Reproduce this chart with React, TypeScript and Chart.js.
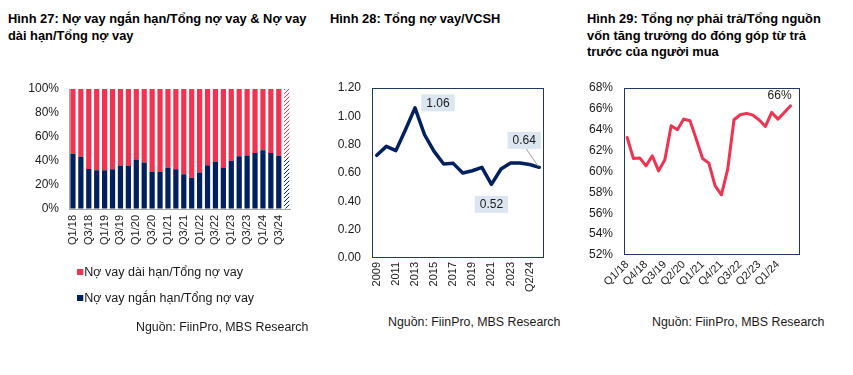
import React, { useEffect, useRef } from 'react';
import { Chart, registerables } from 'chart.js';

Chart.register(...registerables);

// ---------- DATA ----------
const quarters = [
  'Q1/18', 'Q2/18', 'Q3/18', 'Q4/18', 'Q1/19', 'Q2/19', 'Q3/19', 'Q4/19',
  'Q1/20', 'Q2/20', 'Q3/20', 'Q4/20', 'Q1/21', 'Q2/21', 'Q3/21', 'Q4/21',
  'Q1/22', 'Q2/22', 'Q3/22', 'Q4/22', 'Q1/23', 'Q2/23', 'Q3/23', 'Q4/23',
  'Q1/24', 'Q2/24', 'Q3/24', 'Q4/24',
];
const shortTermShare = [
  45.9, 43.6, 33.4, 32.3, 32.3, 33.1, 35.9, 35.9, 41.2, 38.7, 30.9, 30.9, 34.3, 33.1,
  29.0, 26.0, 30.4, 36.5, 39.2, 34.5, 40.3, 43.9, 44.5, 46.7, 48.9, 46.7, 44.5, 43.0,
];
const longTermShare = [
  54.1, 56.4, 66.6, 67.7, 67.7, 66.9, 64.1, 64.1, 58.8, 61.3, 69.1, 69.1, 65.7, 66.9,
  71.0, 74.0, 69.6, 63.5, 60.8, 65.5, 59.7, 56.1, 55.5, 53.3, 51.1, 53.3, 55.5, 57.0,
];
const shareTicks = [0, 20, 40, 60, 80, 100];

const debtYears = [
  '2009', '2010', '2011', '2012', '2013', '2014', '2015', '2016', '2017',
  '2018', '2019', '2020', '2021', '2022', '2023', 'Q1/24', 'Q2/24', 'Q3/24',
];
const debtToEquity = [
  0.725, 0.788, 0.758, 0.906, 1.06, 0.87, 0.753, 0.664, 0.668,
  0.60, 0.616, 0.64, 0.52, 0.628, 0.67, 0.67, 0.66, 0.64,
];

const liabilityShare = [
  63.26, 61.25, 61.3, 60.54, 61.5, 60.06, 61.12, 64.38, 64.0, 65.02, 64.86, 63.1, 61.25, 60.8,
  58.62, 57.76, 60.22, 64.96, 65.44, 65.57, 65.4, 64.93, 64.32, 65.66, 65.02, 65.66, 66.3,
];

const titles = {
  c1: ['Hình 27: Nợ vay ngắn hạn/Tổng nợ vay & Nợ vay', 'dài hạn/Tổng nợ vay'],
  c2: ['Hình 28: Tổng nợ vay/VCSH'],
  c3: ['Hình 29: Tổng nợ phải trả/Tổng nguồn', 'vốn tăng trưởng do đóng góp từ trả', 'trước của người mua'],
};
const legendLabels = ['Nợ vay dài hạn/Tổng nợ vay', 'Nợ vay ngắn hạn/Tổng nợ vay'];
const sourceText = 'Nguồn: FiinPro, MBS Research';

// ---------- STYLE ----------
const RED = '#ef3350';
const NAVY = '#002060';
const FRAME = '#1f3864';
const TEXT = '#1a1a1a';
const FONT = '"Liberation Sans", Arial, sans-serif';
const Y_FONT = { family: FONT, size: 12 };
const X_FONT = { family: FONT, size: 11 };

// spacing done with invisible tick marks so Chart.js doesn't enlarge the padding
const gapGrid = (len: number) => ({
  display: true, drawOnChartArea: false, drawTicks: true, tickLength: len,
  color: 'rgba(0,0,0,0)', tickColor: 'rgba(0,0,0,0)',
});

function hatch(color: string) {
  const c = document.createElement('canvas');
  c.width = 4;
  c.height = 4;
  const g = c.getContext('2d')!;
  g.fillStyle = '#ffffff';
  g.fillRect(0, 0, 4, 4);
  g.strokeStyle = color;
  g.lineWidth = 1;
  g.beginPath();
  g.moveTo(0, 4); g.lineTo(4, 0);
  g.moveTo(-1, 1); g.lineTo(1, -1);
  g.moveTo(3, 5); g.lineTo(5, 3);
  g.stroke();
  return g.createPattern(c, 'repeat');
}

const framePlugin = {
  id: 'frame',
  beforeDatasetsDraw(chart: any) {
    const { ctx, chartArea: a } = chart;
    ctx.save();
    ctx.strokeStyle = FRAME;
    ctx.lineWidth = 1;
    ctx.strokeRect(Math.round(a.left) + 0.5, Math.round(a.top) + 0.5, Math.round(a.right - a.left) - 1, Math.round(a.bottom - a.top) - 1);
    ctx.restore();
  },
};

const boxLabelPlugin = {
  id: 'boxLabels',
  afterDatasetsDraw(chart: any) {
    const ds = chart.data.datasets[0].data as number[];
    const meta = chart.getDatasetMeta(0);
    let maxI = 0, minI = 0;
    ds.forEach((v, i) => { if (v > ds[maxI]) maxI = i; if (v < ds[minI]) minI = i; });
    const lastI = ds.length - 1;
    const items = [
      { i: maxI, dx: 23, dy: -5, leader: false },
      { i: minI, dx: 0, dy: 20, leader: false },
      { i: lastI, dx: -15, dy: -27, leader: true },
    ];
    const ctx = chart.ctx;
    ctx.save();
    ctx.font = `12px ${FONT}`;
    items.forEach((it) => {
      const p = meta.data[it.i];
      const cx = p.x + it.dx;
      const cy = p.y + it.dy;
      const text = ds[it.i].toFixed(2);
      const w = ctx.measureText(text).width + 10;
      const h = 17;
      if (it.leader) {
        ctx.strokeStyle = '#a0a0a0';
        ctx.lineWidth = 1;
        ctx.beginPath();
        ctx.moveTo(cx + 2, cy + h / 2);
        ctx.lineTo(p.x - 1, p.y - 1);
        ctx.stroke();
      }
      ctx.fillStyle = '#dce6f1';
      ctx.fillRect(cx - w / 2, cy - h / 2, w, h);
      ctx.fillStyle = TEXT;
      ctx.textAlign = 'center';
      ctx.textBaseline = 'middle';
      ctx.fillText(text, cx, cy + 0.5);
    });
    ctx.restore();
  },
};

const lastLabelPlugin = {
  id: 'lastLabel',
  afterDatasetsDraw(chart: any) {
    const ds = chart.data.datasets[0].data as number[];
    const meta = chart.getDatasetMeta(0);
    const i = ds.length - 1;
    const p = meta.data[i];
    const ctx = chart.ctx;
    ctx.save();
    ctx.font = `12px ${FONT}`;
    ctx.fillStyle = TEXT;
    ctx.textAlign = 'center';
    ctx.textBaseline = 'middle';
    ctx.fillText(`${Math.round(ds[i])}%`, p.x - 11, p.y - 10);
    ctx.restore();
  },
};

function ChartCanvas({ make, left, top, width, height }: any) {
  const ref = useRef<HTMLCanvasElement>(null);
  useEffect(() => {
    const chart = new Chart(ref.current!, make());
    return () => chart.destroy();
  }, []);
  return (
    <div style={{ position: 'absolute', left, top, width, height }}>
      <canvas ref={ref} width={width} height={height} style={{ width, height, display: 'block' }} />
    </div>
  );
}

function makeChart1(): any {
  const n = quarters.length;
  const navy = shortTermShare.map((_, i) => (i === n - 1 ? hatch(NAVY) : NAVY));
  const red = longTermShare.map((_, i) => (i === n - 1 ? hatch(RED) : RED));
  return {
    type: 'bar',
    data: {
      labels: quarters,
      datasets: [
        { label: legendLabels[1], data: shortTermShare, backgroundColor: navy, barPercentage: 0.66, categoryPercentage: 1 },
        { label: legendLabels[0], data: longTermShare, backgroundColor: red, barPercentage: 0.66, categoryPercentage: 1 },
      ],
    },
    options: {
      animation: false,
      responsive: false,
      layout: { padding: { top: 11, right: 6, left: 0, bottom: 0 } },
      plugins: { legend: { display: false }, tooltip: { enabled: false } },
      scales: {
        x: {
          stacked: true,
          grid: gapGrid(6),
          border: { display: true, color: '#a6a6a6' },
          afterFit: (s: any) => { s.height = 69; },
          ticks: {
            autoSkip: false, maxRotation: 90, minRotation: 90, padding: 0, color: TEXT, font: X_FONT,
            callback: (v: any, i: number) => (i % 2 === 0 ? quarters[i] : ''),
          },
        },
        y: {
          stacked: true,
          min: 0,
          max: 100,
          grid: gapGrid(10),
          border: { display: true, color: '#a6a6a6' },
          afterFit: (s: any) => { s.width = 69; },
          afterBuildTicks: (s: any) => { s.ticks = shareTicks.map((v) => ({ value: v })); },
          ticks: { padding: 0, color: TEXT, font: Y_FONT, callback: (v: any) => `${v}%` },
        },
      },
    },
  };
}

function makeChart2(): any {
  return {
    type: 'line',
    data: {
      labels: debtYears,
      datasets: [{
        data: debtToEquity, borderColor: NAVY, borderWidth: 3.5, pointRadius: 0, tension: 0,
        borderJoinStyle: 'round', borderCapStyle: 'round',
      }],
    },
    options: {
      animation: false,
      responsive: false,
      layout: { padding: { top: 10, right: 16, left: 0, bottom: 0 } },
      plugins: { legend: { display: false }, tooltip: { enabled: false } },
      scales: {
        x: {
          offset: true,
          grid: gapGrid(4),
          border: { display: false },
          afterFit: (s: any) => { s.height = 50; },
          ticks: {
            autoSkip: false, maxRotation: 90, minRotation: 90, padding: 0, color: TEXT, font: X_FONT,
            callback: (v: any, i: number) => (i % 2 === 0 ? debtYears[i] : ''),
          },
        },
        y: {
          min: 0,
          max: 1.2,
          grid: gapGrid(11),
          border: { display: false },
          afterFit: (s: any) => { s.width = 72; },
          ticks: { stepSize: 0.2, padding: 0, color: TEXT, font: Y_FONT, callback: (v: any) => Number(v).toFixed(2) },
        },
      },
    },
    plugins: [framePlugin, boxLabelPlugin],
  };
}

function makeChart3(): any {
  return {
    type: 'line',
    data: {
      labels: quarters,
      datasets: [{
        data: liabilityShare, borderColor: RED, borderWidth: 3, pointRadius: 0, tension: 0,
        borderJoinStyle: 'round', borderCapStyle: 'round',
      }],
    },
    options: {
      animation: false,
      responsive: false,
      layout: { padding: { top: 10, right: 53, left: 0, bottom: 0 } },
      plugins: { legend: { display: false }, tooltip: { enabled: false } },
      scales: {
        x: {
          offset: true,
          grid: gapGrid(3),
          border: { display: false },
          afterFit: (s: any) => { s.height = 55; },
          ticks: {
            autoSkip: false, maxRotation: 45, minRotation: 45, padding: 0, color: TEXT, font: X_FONT,
            callback: (v: any, i: number) => (i % 3 === 0 && i < liabilityShare.length ? quarters[i] : ''),
          },
        },
        y: {
          min: 52,
          max: 68,
          grid: gapGrid(11),
          border: { display: false },
          afterFit: (s: any) => { s.width = 54; },
          ticks: { stepSize: 2, padding: 0, color: TEXT, font: Y_FONT, callback: (v: any) => `${v}%` },
        },
      },
    },
    plugins: [framePlugin, lastLabelPlugin],
  };
}

const titleStyle: any = {
  position: 'absolute', top: 11, fontFamily: FONT, fontWeight: 'bold', fontSize: 12,
  lineHeight: '16.5px', color: '#000', whiteSpace: 'nowrap',
  transform: 'scaleX(1.07)', transformOrigin: 'left top',
};
const srcStyle: any = {
  position: 'absolute', fontFamily: FONT, fontSize: 12, color: TEXT, whiteSpace: 'nowrap', lineHeight: '14px',
  transform: 'scaleX(1.03)', transformOrigin: 'left top',
};

export default function App() {
  return (
    <div style={{ position: 'absolute', left: 0, top: 0, width: 853, height: 375, background: '#fff', overflow: 'hidden' }}>
      <div style={{ ...titleStyle, left: 8 }}>{titles.c1.map((t) => <div key={t}>{t}</div>)}</div>
      <div style={{ ...titleStyle, left: 330 }}>{titles.c2.map((t) => <div key={t}>{t}</div>)}</div>
      <div style={{ ...titleStyle, left: 587 }}>{titles.c3.map((t) => <div key={t}>{t}</div>)}</div>

      <ChartCanvas make={makeChart1} left={0} top={78} width={300} height={200} />
      <ChartCanvas make={makeChart2} left={300} top={78} width={260} height={230} />
      <ChartCanvas make={makeChart3} left={570} top={78} width={283} height={232} />

      {legendLabels.map((t, i) => (
        <div key={t} style={{ position: 'absolute', left: 77, top: 265 + i * 26, fontFamily: FONT, fontSize: 12, color: TEXT, lineHeight: '14px', whiteSpace: 'nowrap', display: 'flex', alignItems: 'center', transform: 'scaleX(1.045)', transformOrigin: 'left top' }}>
          <span style={{ display: 'inline-block', width: 6, height: 6, background: i === 0 ? RED : NAVY, marginRight: 1 }} />
          {t}
        </div>
      ))}

      <div style={{ ...srcStyle, left: 136, top: 320 }}>{sourceText}</div>
      <div style={{ ...srcStyle, left: 388, top: 315 }}>{sourceText}</div>
      <div style={{ ...srcStyle, left: 652, top: 315 }}>{sourceText}</div>
    </div>
  );
}
